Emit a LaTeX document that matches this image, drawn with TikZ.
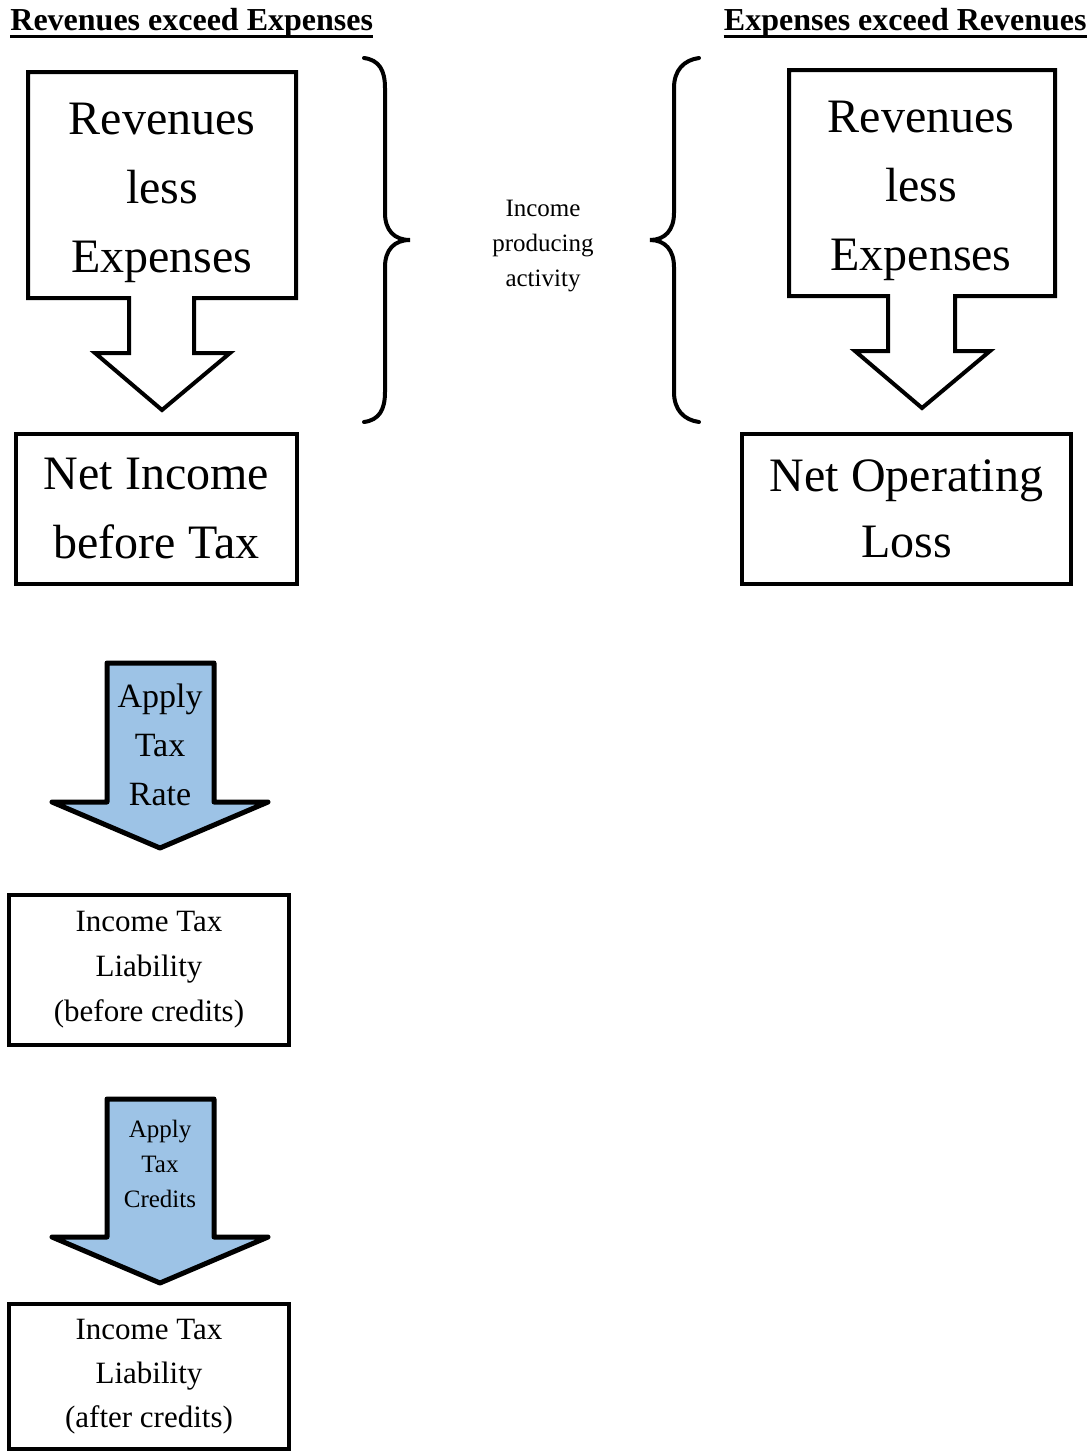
\documentclass[tikz,border=0pt]{standalone}
\usepackage{fontspec}
\setmainfont{Liberation Serif}
\usepackage{tikz}
\definecolor{taxblue}{RGB}{157,195,230}

\begin{document}
\begin{tikzpicture}[x=0.5pt,y=-0.5pt,
  box/.style={draw,line width=2pt,align=center},
  bigtext/.style={font=\fontsize{24}{34.5}\selectfont,align=center},
  title/.style={font=\fontsize{16}{19}\selectfont\bfseries,inner sep=0pt}]
\useasboundingbox (0,0) rectangle (1091,1452);
\node[title,anchor=base west] (ttlleft) at (10,30) {Revenues exceed Expenses};
\node[title,anchor=base east] (ttlright) at (1087,30) {Expenses exceed Revenues};
\draw [line width=1.5pt] ([yshift=-3pt]ttlleft.base west) -- ([yshift=-3pt]ttlleft.base east);
\draw [line width=1.5pt] ([yshift=-3pt]ttlright.base west) -- ([yshift=-3pt]ttlright.base east);
\draw [line width=2pt] (28,72)--(296,72)--(296,298)--(194,298)--(194,353)--(230,353)--(162,410)--(95,353)--(129,353)--(129,298)--(28,298)--cycle;
\node[bigtext] (revleft) at (162,192.5) {Revenues\\less\\Expenses};
\draw [line width=2pt] (789,70)--(1055,70)--(1055,296)--(955,296)--(955,351)--(990,351)--(922,408)--(855,351)--(888,351)--(888,296)--(789,296)--cycle;
\node[bigtext] (revright) at (921,190.5) {Revenues\\less\\Expenses};
\draw [line width=2pt,line cap=round] (364,58) .. controls (379,60) and (385,70) .. (385,88)--(385,213) .. controls (385,230) and (394,240) .. (410,240) .. controls (394,240) and (385,250) .. (385,267)--(385,392) .. controls (385,410) and (379,420) .. (364,422);
\draw [line width=2pt,line cap=round] (699,58) .. controls (684,60) and (674,70) .. (674,88)--(674,213) .. controls (674,230) and (665,240) .. (650,240) .. controls (665,240) and (674,250) .. (674,267)--(674,392) .. controls (674,410) and (684,420) .. (699,422);
\node[align=center,font=\fontsize{12.5}{17.5}\selectfont] (activity) at (543,246.5) {Income\\producing\\activity};
\node[box,bigtext,minimum width=140.5pt,minimum height=75pt] (nibt) at (156.5,509) {Net Income\\before Tax};
\node[box,bigtext,minimum width=164.5pt,minimum height=75pt,font=\fontsize{24}{33}\selectfont] (nol) at (906.5,509) {Net Operating\\Loss};
\draw [line width=2.5pt,fill=taxblue,line join=round] (107,663)--(214,663)--(214,802)--(268,802)--(160,848)--(52,802)--(107,802)--cycle;
\node[align=center,font=\fontsize{17}{24.5}\selectfont] (rate) at (160,745) {Apply\\Tax\\Rate};
\node[box,minimum width=140pt,minimum height=75pt,font=\fontsize{15.5}{22.5}\selectfont] (itlb) at (149,970) {Income Tax\\Liability\\(before credits)};
\draw [line width=2.5pt,fill=taxblue,line join=round] (107,1099)--(214,1099)--(214,1237)--(268,1237)--(160,1283)--(52,1237)--(107,1237)--cycle;
\node[align=center,font=\fontsize{12.5}{17.5}\selectfont] (credits) at (160,1164) {Apply\\Tax\\Credits};
\node[box,minimum width=140pt,minimum height=72.5pt,font=\fontsize{15.5}{22}\selectfont] (itla) at (149,1376.5) {Income Tax\\Liability\\(after credits)};
\end{tikzpicture}
\end{document}
